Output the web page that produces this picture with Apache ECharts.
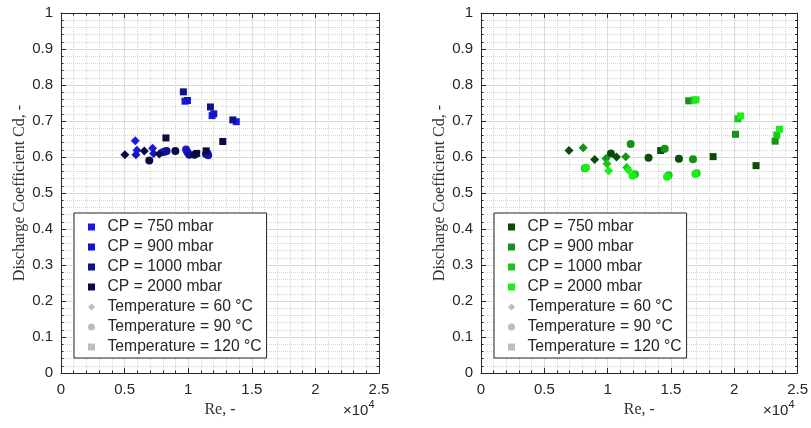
<!DOCTYPE html>
<html><head><meta charset="utf-8">
<script src="https://cdn.jsdelivr.net/npm/echarts@6/dist/echarts.min.js"></script>
<style>html,body{margin:0;padding:0;background:#fff}#c{width:811px;height:428px}</style>
</head><body><div id="c"></div><script>
// Labels
const cpLabels = ['CP = 750 mbar', 'CP = 900 mbar', 'CP = 1000 mbar', 'CP = 2000 mbar'];
const tempLabels = ['Temperature = 60 °C', 'Temperature = 90 °C', 'Temperature = 120 °C'];
const yAxisTitle = 'Discharge Coefficient Cd, -';
const xAxisTitle = 'Re, -';
const xTickValues = [0, 5000, 10000, 15000, 20000, 25000];
const yTickValues = [0, 0.1, 0.2, 0.3, 0.4, 0.5, 0.6, 0.7, 0.8, 0.9, 1];

// Left plot data: [Re, Cd, temperature °C]
const left750 = [[9750,0.755,120],[11880,0.715,120],[13780,0.698,120],[5840,0.645,60],[5970,0.619,60],[7200,0.624,60],[8200,0.615,90],[9830,0.621,90],[11500,0.611,90]];
const left900 = [[9940,0.757,120],[12010,0.720,120],[5890,0.606,60],[7280,0.610,60],[7990,0.613,90],[9940,0.613,90],[11570,0.605,90]];
const left1000 = [[9620,0.781,120],[11750,0.739,120],[13510,0.703,120],[8300,0.617,90],[10090,0.606,90],[11400,0.608,90]];
const left2000 = [[8250,0.653,120],[12720,0.643,120],[5020,0.606,60],[6550,0.617,60],[7730,0.608,60],[6940,0.590,90],[8990,0.617,90],[10670,0.610,120],[11410,0.617,120],[10500,0.606,90]];

// Right plot data: [Re, Cd, temperature °C]
const right750 = [[6950,0.618,60],[8980,0.593,60],[10700,0.600,60],[10260,0.610,90],[13230,0.598,90],[15630,0.595,90],[14190,0.618,120],[18330,0.601,120],[21720,0.576,120]];
const right900 = [[8070,0.626,60],[9870,0.596,60],[11430,0.601,60],[11820,0.636,90],[14510,0.623,90],[16740,0.594,90],[16400,0.756,120],[20100,0.663,120],[23230,0.644,120]];
const right1000 = [[9950,0.581,60],[11510,0.571,60],[8200,0.569,90],[12160,0.552,90],[14820,0.549,90],[17030,0.555,90],[16800,0.758,120],[20290,0.706,120],[23360,0.661,120]];
const right2000 = [[10080,0.562,60],[11640,0.564,60],[8300,0.570,90],[11980,0.548,90],[14690,0.545,90],[16930,0.553,90],[16980,0.759,120],[20490,0.714,120],[23570,0.677,120]];

const blueColors = ['#1a1ae8', '#1515c8', '#111190', '#0a0a45'];
const greenColors = ['#0a4d0a', '#149414', '#1cc41c', '#18f018'];
const tempGrey = '#bdbdbd';

const symbolByTemp = {60: 'diamond', 90: 'circle', 120: 'rect'};
const sizeByTemp = {60: 9, 90: 8, 120: 7};
const iconSquare = 'path://M0,0H10V10H0Z';
const iconDiamond = 'path://M5,0L10,5L5,10L0,5Z';
const iconCircle = 'path://M5,0A5,5,0,1,1,5,10A5,5,0,1,1,5,0Z';
const tempIcons = [iconDiamond, iconCircle, iconSquare];

const FONT = 'Liberation Sans';
const SERIF = 'Liberation Serif';
const INK = '#262626';

function pts(arr) {
  return arr.map(p => ({value: [p[0], p[1]], symbol: symbolByTemp[p[2]], symbolSize: sizeByTemp[p[2]]}));
}

const grids = [
  {left: 61, top: 13, width: 318, height: 360},
  {left: 481, top: 13, width: 320, height: 360}
];

const xAxes = [], yAxes = [];
grids.forEach((g, i) => {
  const tick = {show: true, inside: true, length: 5, lineStyle: {color: INK}};
  const minor = {show: true, splitNumber: 5, length: 2.5, lineStyle: {color: INK}};
  xAxes.push({
    gridIndex: i, type: 'value', min: 0, max: 25000, interval: 5000, position: 'bottom',
    axisLine: {show: true, onZero: false, lineStyle: {color: INK}},
    axisTick: tick, minorTick: minor,
    axisLabel: {formatter: v => xTickValues.includes(v) ? String(v / 10000) : '', fontSize: 15, color: INK, margin: 9, fontFamily: FONT},
    splitLine: {show: true, lineStyle: {color: '#dadada'}},
    minorSplitLine: {show: true, lineStyle: {color: '#d6d6d6', type: 'dotted'}},
    name: xAxisTitle, nameLocation: 'middle', nameGap: 28,
    nameTextStyle: {fontFamily: SERIF, fontSize: 16, color: '#333'}
  });
  xAxes.push({
    gridIndex: i, type: 'value', min: 0, max: 25000, interval: 5000, position: 'top',
    axisLine: {show: true, onZero: false, lineStyle: {color: INK}},
    axisTick: tick, minorTick: minor, axisLabel: {show: false}, splitLine: {show: false}
  });
  yAxes.push({
    gridIndex: i, type: 'value', min: 0, max: 1, interval: 0.1, position: 'left',
    axisLine: {show: true, onZero: false, lineStyle: {color: INK}},
    axisTick: tick, minorTick: minor,
    axisLabel: {formatter: v => String(+v.toFixed(1)), fontSize: 15, color: INK, margin: 8, fontFamily: FONT},
    splitLine: {show: true, lineStyle: {color: '#dadada'}},
    minorSplitLine: {show: true, lineStyle: {color: '#d6d6d6', type: 'dotted'}},
    name: yAxisTitle, nameLocation: 'middle', nameGap: 31,
    nameTextStyle: {fontFamily: SERIF, fontSize: 16, color: '#333'}
  });
  yAxes.push({
    gridIndex: i, type: 'value', min: 0, max: 1, interval: 0.1, position: 'right',
    axisLine: {show: true, onZero: false, lineStyle: {color: INK}},
    axisTick: tick, minorTick: minor, axisLabel: {show: false}, splitLine: {show: false}
  });
});

const leftSets = [left750, left900, left1000, left2000];
const rightSets = [right750, right900, right1000, right2000];
const suffix = ['', '\u200b'];
const series = [];
[leftSets, rightSets].forEach((sets, gi) => {
  const cols = gi === 0 ? blueColors : greenColors;
  sets.forEach((s, k) => {
    series.push({
      type: 'scatter', name: cpLabels[k] + suffix[gi], xAxisIndex: gi * 2, yAxisIndex: gi * 2,
      data: pts(s), itemStyle: {color: cols[k], opacity: 1}, z: 3
    });
  });
  tempLabels.forEach((t, k) => {
    series.push({
      type: 'scatter', name: t + suffix[gi], xAxisIndex: gi * 2, yAxisIndex: gi * 2,
      data: [], itemStyle: {color: tempGrey, opacity: 1}
    });
  });
});

function legendFor(gi, left) {
  const data = cpLabels.map(n => ({name: n + suffix[gi], icon: iconSquare}))
    .concat(tempLabels.map((n, k) => ({name: n + suffix[gi], icon: tempIcons[k]})));
  return {
    orient: 'vertical', left: left, top: 213,
    itemWidth: 22, itemHeight: 7, itemGap: 4,
    padding: [6, 5, 3, 14],
    backgroundColor: '#fff', borderColor: INK, borderWidth: 1,
    selectedMode: false,
    textStyle: {fontSize: 15.7, color: INK, fontFamily: FONT, lineHeight: 14},
    data: data
  };
}

function expText(x) {
  return {
    type: 'text', left: x, top: 399,
    style: {
      text: '{a|×10}{b|4}',
      rich: {
        a: {fontSize: 15, fontFamily: FONT, fill: INK, color: INK, padding: [6, 0, 0, 0]},
        b: {fontSize: 11, fontFamily: FONT, fill: INK, color: INK, padding: [0, 0, 7, 0]}
      }
    }
  };
}

const chart = echarts.init(document.getElementById('c'));
chart.setOption({
  animation: false,
  backgroundColor: '#fff',
  grid: grids,
  xAxis: xAxes,
  yAxis: yAxes,
  legend: [legendFor(0, 74), legendFor(1, 494)],
  graphic: [expText(343), expText(763)],
  series: series
});
</script></body></html>
